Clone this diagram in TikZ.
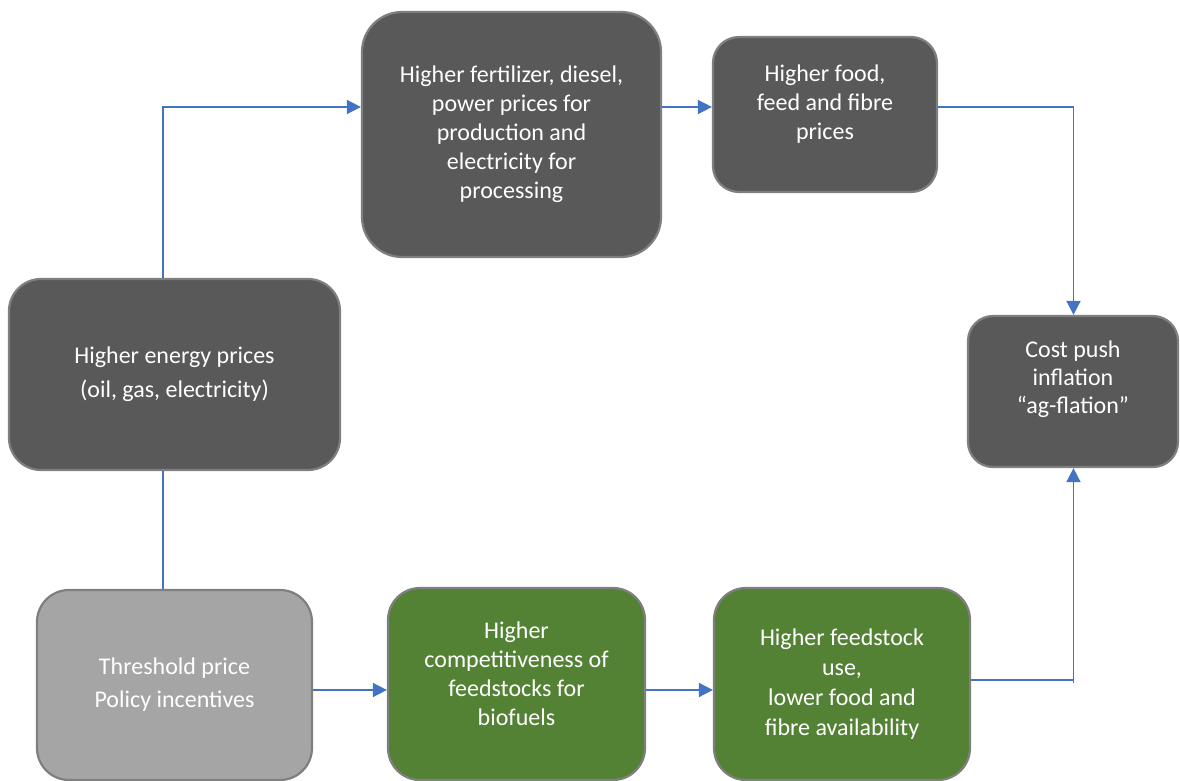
\documentclass[tikz,border=0pt]{standalone}
\usepackage{fontspec}
\setmainfont{Carlito}
\usetikzlibrary{arrows.meta}
\definecolor{boxdark}{HTML}{595959}
\definecolor{boxgrey}{HTML}{A5A5A5}
\definecolor{boxgreen}{HTML}{548235}
\definecolor{boxedge}{HTML}{7F7F7F}
\definecolor{linkblue}{HTML}{4472C4}
\begin{document}
\begin{tikzpicture}
   [x=0.5pt, y=-0.5pt,
    stage/.style={draw=boxedge, line width=1.1pt, text=white, align=center,
       inner sep=0pt, font=\fontsize{12pt}{14.5pt}\selectfont},
    darkstage/.style={stage, fill=boxdark},
    greystage/.style={stage, fill=boxgrey},
    greenstage/.style={stage, fill=boxgreen},
    link/.style={draw=linkblue, line width=0.8pt},
    flow/.style={link, -{Triangle[length=7pt,width=7pt]}}]
   \useasboundingbox (0,0) rectangle (1180,781);

   \node[darkstage, minimum width=165.5pt, minimum height=95.5pt, rounded corners=16pt,
      font=\fontsize{12pt}{17pt}\selectfont] (energy) at (174.5,374.5)
      {Higher energy prices\\(oil, gas, electricity)};
   \node[darkstage, minimum width=149.5pt, minimum height=122.5pt, rounded corners=20pt] (fert) at (511.5,134.5)
      {Higher fertilizer, diesel,\\power prices for\\production and\\electricity for\\processing};
   \node[darkstage, minimum width=112pt, minimum height=77.5pt, rounded corners=13pt, text depth=12.5pt] (food) at (825,114.5)
      {Higher food,\\feed and fibre\\prices};
   \node[darkstage, minimum width=105pt, minimum height=75.5pt, rounded corners=12.5pt, text depth=14.5pt,
      font=\fontsize{12pt}{14pt}\selectfont] (cost) at (1073,391.5)
      {Cost push\\inflation\\“ag-flation”};

   \node[greystage, minimum width=137.5pt, minimum height=95pt, rounded corners=16pt,
      font=\fontsize{12pt}{16.5pt}\selectfont] (thresh) at (174.5,685)
      {Threshold price\\Policy incentives};
   \node[greenstage, minimum width=128.5pt, minimum height=96pt, rounded corners=16pt, text depth=10pt] (compet) at (516.5,684)
      {Higher\\competitiveness of\\feedstocks for\\biofuels};
   \node[greenstage, minimum width=128pt, minimum height=96pt, rounded corners=16pt,
      font=\fontsize{12pt}{15pt}\selectfont] (feed) at (842,684)
      {Higher feedstock\\use,\\lower food and\\fibre availability};

   \coordinate (upbend) at (163,107);
   \coordinate (lowrow) at (0,690);
   \coordinate (rbend) at (1073.5,680);
   \coordinate (rfoot) at (1073.5,683);

   \draw[flow] (energy.north -| upbend) |- (fert.west |- upbend);
   \draw[flow] (fert.east |- upbend) -- (food.west |- upbend);
   \draw[flow] (food.east |- upbend) -| (cost.north -| rfoot);
   \draw[link] (thresh.north -| upbend) -- (energy.south -| upbend);
   \draw[flow] (thresh.east |- lowrow) -- (compet.west |- lowrow);
   \draw[flow] (compet.east |- lowrow) -- (feed.west |- lowrow);
   \draw[link] (feed.east |- rbend) -- (rbend);
   \draw[flow] (rfoot) -- (cost.south -| rfoot);
\end{tikzpicture}
\end{document}
